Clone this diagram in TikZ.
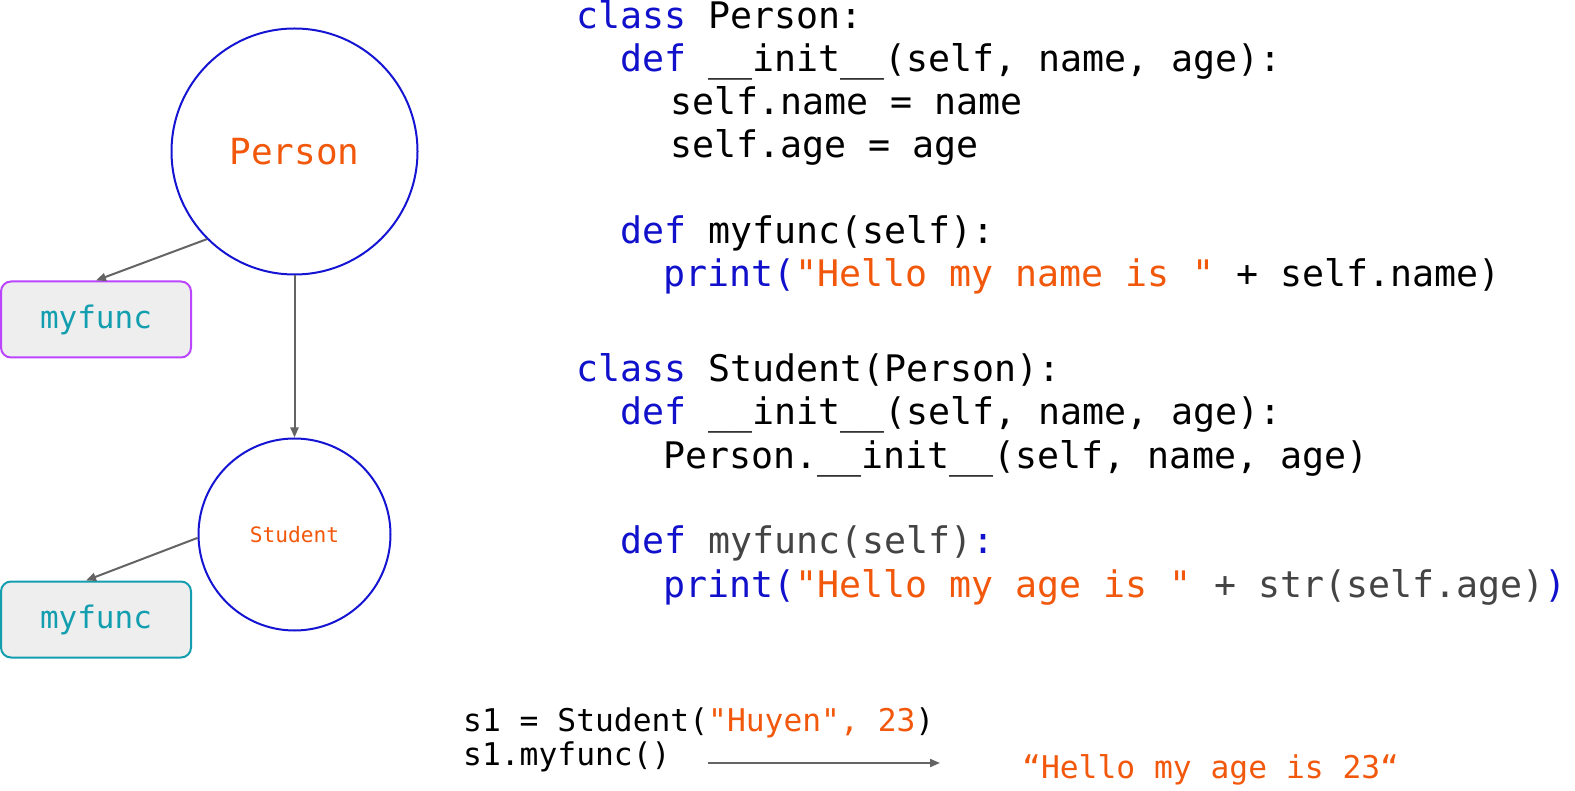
\documentclass[tikz,border=0pt]{standalone}
\usepackage{fontspec}
\usetikzlibrary{arrows.meta,calc}
\newfontfamily\codefont{DejaVu Sans Mono}
\definecolor{kw}{RGB}{17,17,204}
\definecolor{strc}{RGB}{242,88,12}
\definecolor{grt}{RGB}{68,68,68}
\definecolor{teal}{RGB}{18,158,175}
\definecolor{purp}{RGB}{187,68,255}
\definecolor{cblue}{RGB}{20,20,210}
\definecolor{agray}{RGB}{100,100,100}
\definecolor{boxfill}{RGB}{238,238,238}
\frenchspacing
\begin{document}
\begin{tikzpicture}[x=1pt,y=-1pt,
  code/.style={anchor=base west,inner sep=0pt,font=\codefont\fontsize{36.6}{36.6}\selectfont},
  small/.style={anchor=base west,inner sep=0pt,font=\codefont\fontsize{31.3}{31.3}\selectfont},
  cls/.style={circle,draw=cblue,line width=2pt,inner sep=0pt,text=strc},
  fbox/.style={rectangle,rounded corners=10pt,fill=boxfill,line width=2pt,minimum width=190pt,minimum height=76pt,inner sep=0pt,text=teal,font=\codefont\fontsize{31}{31}\selectfont},
  conn/.style={draw=agray,line width=2pt,-{Triangle[length=10pt,width=8pt]},fill=agray}
]
\useasboundingbox (0,0) rectangle (1575,791);
% diagram
\node[cls,minimum size=246pt,font=\codefont\fontsize{36}{36}\selectfont] (P) at (294.5,151.5) {Person};
\node[cls,minimum size=192pt,font=\codefont\fontsize{21.2}{21.2}\selectfont] (S) at (294.5,534.5) {Student};
\node[fbox,draw=purp] (m1) at (96,319.5) {myfunc};
\node[fbox,draw=teal] (m2) at (96,619.5) {myfunc};
\draw[conn] (P.225) -- (m1.north);
\draw[conn] (P.south) -- (S.north);
\draw[conn] (S.182) -- ([xshift=-10pt]m2.north);
% code
\node[code] (l1) at (576,29) {\textcolor{kw}{class} Person:};
\node[code] (l2) at (620,72) {\textcolor{kw}{def} \_\_init\_\_(self, name, age):};
\node[code] (l3) at (670,115) {self.name = name};
\node[code] (l4) at (670,158) {self.age = age};
\node[code] (l6) at (620,244) {\textcolor{kw}{def} myfunc(self):};
\node[code] (l7) at (663,287) {\textcolor{kw}{print(}\textcolor{strc}{"Hello my name is "} + self.name)};
\node[code] (l9) at (576,382) {\textcolor{kw}{class} Student(Person):};
\node[code] (l10) at (620,425) {\textcolor{kw}{def} \_\_init\_\_(self, name, age):};
\node[code] (l11) at (663,468) {Person.\_\_init\_\_(self, name, age)};
\node[code] (l13) at (620,553) {\textcolor{kw}{def} \textcolor{grt}{myfunc(self)}\textcolor{kw}{:}};
\node[code] (l14) at (663,597) {\textcolor{kw}{print(}\textcolor{strc}{"Hello my age is "} \textcolor{grt}{+ str(self.age)}\textcolor{kw}{)}};
% bottom
\node[small] (b1) at (463,731) {s1 = Student(\textcolor{strc}{"Huyen", 23})};
\node[small] (b2) at (463,765) {s1.myfunc()};
\node[small,text=strc] (out) at (1022,778) {“Hello my age is 23“};
\coordinate (a1) at (708,763);
\coordinate (a2) at (940,763);
\draw[conn] (a1) -- (a2);
\end{tikzpicture}
\end{document}
